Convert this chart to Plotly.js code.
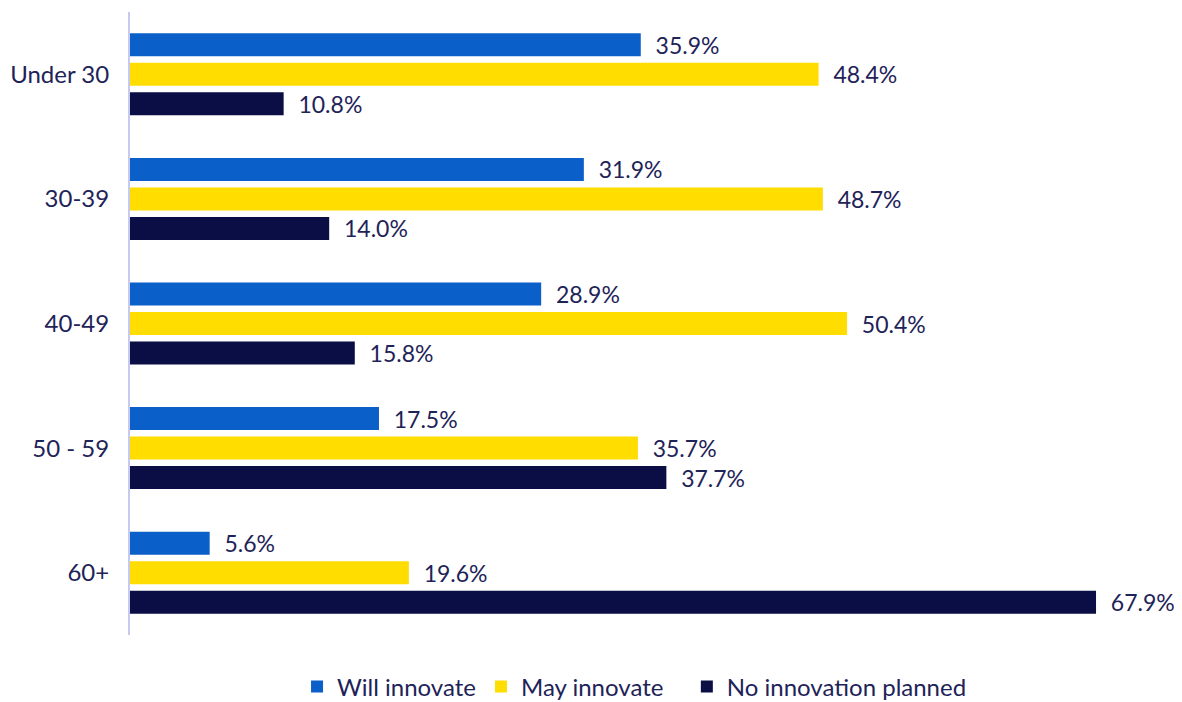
<!DOCTYPE html>
<html>
<head>
<meta charset="utf-8">
<script src="https://cdn.plot.ly/plotly-3.0.1.min.js"></script>
<style>
  html, body { margin: 0; padding: 0; background: #fff; }
  #chart { width: 1182px; height: 702px; }
</style>
</head>
<body>
<div id="chart"></div>
<script>
// Age groups and the share of respondents in each innovation intention
const ageGroups = ['Under 30', '30-39', '40-49', '50 - 59', '60+'];
const willInnovate = [35.9, 31.9, 28.9, 17.5, 5.6];
const mayInnovate = [48.4, 48.7, 50.4, 35.7, 19.6];
const noInnovation = [10.8, 14.0, 15.8, 37.7, 67.9];
const seriesNames = ['Will innovate', 'May innovate', 'No innovation planned'];
const seriesColors = ['#0B5FC9', '#FFDD00', '#0A0E45'];

const textColor = '#1E2358';
const fontFamily = 'Lato, "Open Sans", sans-serif';
const nb = '\u00a0';

function barTrace(values, i) {
  return {
    type: 'bar',
    orientation: 'h',
    // trailing non-breaking spaces widen the gap after the middle legend entry
    name: seriesNames[i] + nb.repeat(i === 1 ? 3 : 0),
    y: ageGroups,
    x: values,
    marker: { color: seriesColors[i] },
    text: values.map(v => nb.repeat(2) + v.toFixed(1) + '%'),
    textposition: 'outside',
    constraintext: 'none',
    cliponaxis: false,
    textfont: { family: fontFamily, size: 23, color: textColor },
    hoverinfo: 'skip'
  };
}

const data = [willInnovate, mayInnovate, noInnovation].map(barTrace);

const layout = {
  width: 1182,
  height: 702,
  margin: { l: 130, r: 8, t: 12, b: 67, autoexpand: false },
  paper_bgcolor: '#ffffff',
  plot_bgcolor: '#ffffff',
  barmode: 'group',
  bargap: 0.29,
  bargroupgap: 0.22,
  font: { family: fontFamily, size: 23, color: textColor },
  xaxis: {
    range: [0, 73.38],
    showgrid: false,
    zeroline: false,
    showline: false,
    showticklabels: false
  },
  yaxis: {
    autorange: 'reversed',
    showgrid: false,
    zeroline: false,
    showline: true,
    linecolor: '#C6C9F0',
    linewidth: 2,
    ticks: '',
    ticklabelstandoff: 14,
    tickfont: { family: fontFamily, size: 24, color: textColor }
  },
  showlegend: true,
  legend: {
    orientation: 'h',
    x: 0.16,
    xanchor: 'left',
    y: -0.047,
    yanchor: 'top',
    font: { family: fontFamily, size: 24, color: textColor },
    itemwidth: 30,
    tracegroupgap: 0
  }
};

Plotly.newPlot('chart', data, layout, { displayModeBar: false, staticPlot: true });
</script>
</body>
</html>
